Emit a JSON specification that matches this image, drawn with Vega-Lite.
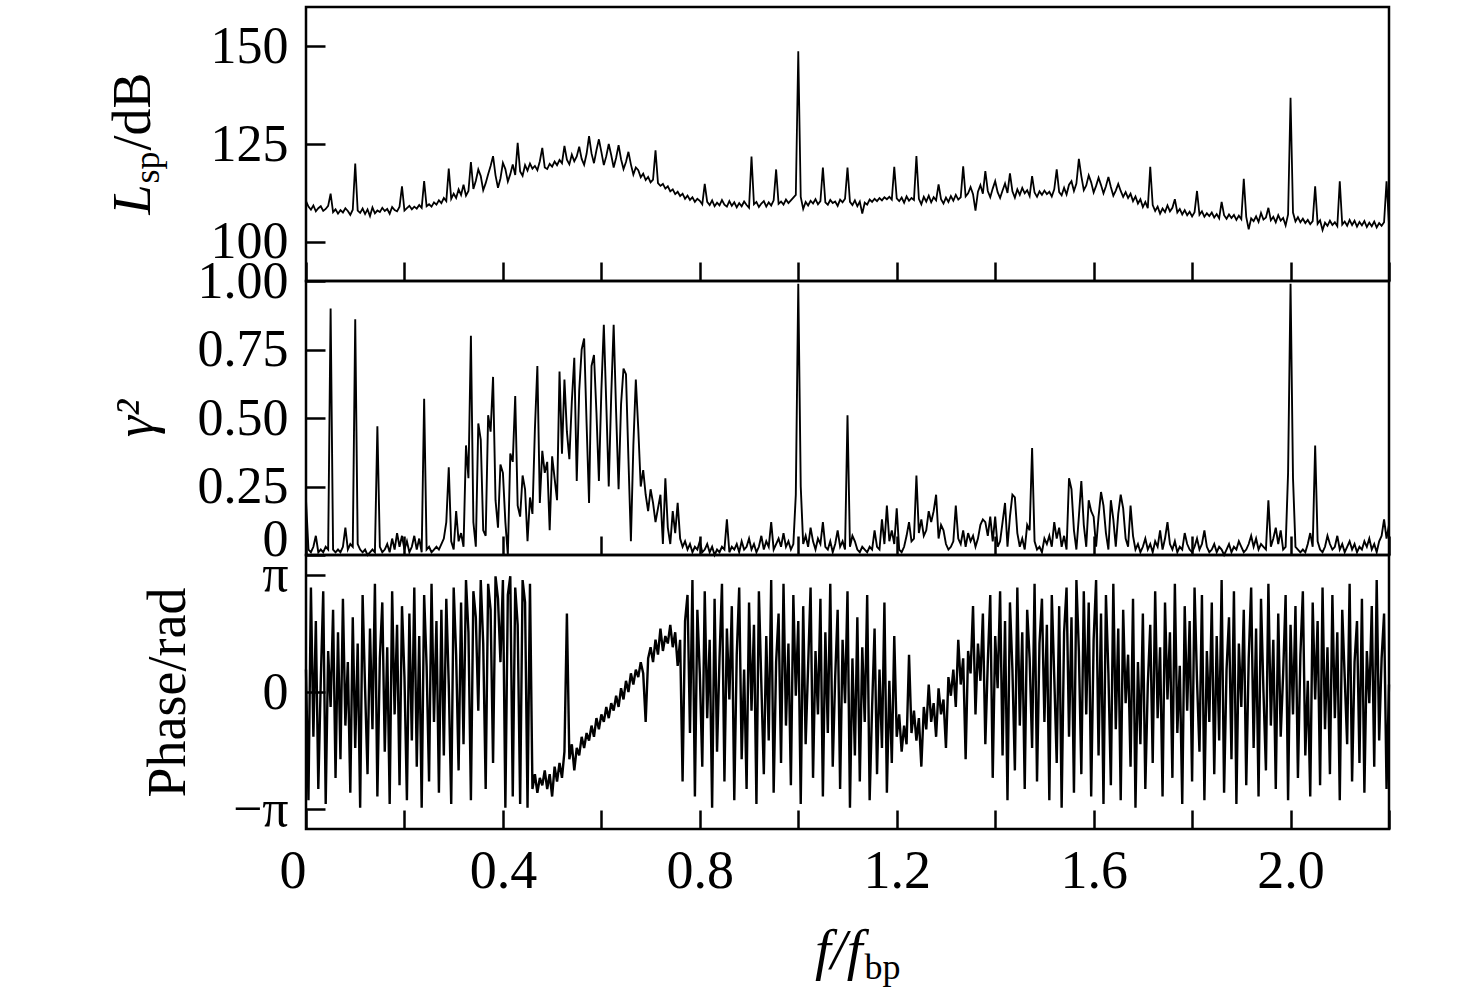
{
  "$schema": "https://vega.github.io/schema/vega-lite/v6.json",
  "description": "Coherence analysis: spectrum level, coherence squared and phase against normalised frequency.",
  "background": "white",
  "padding": {"left": 104, "top": 5, "right": 5, "bottom": 5},
  "bounds": "flush",
  "spacing": 0,
  "config": {
    "font": "Liberation Serif",
    "view": {"stroke": "black", "strokeWidth": 2.5},
    "line": {"color": "black", "strokeWidth": 1.8},
    "axis": {
      "domain": false,
      "grid": false,
      "tickSize": -19,
      "tickWidth": 2.5,
      "tickColor": "black",
      "labelFont": "Liberation Serif",
      "labelFontSize": 52,
      "labelColor": "black",
      "labelPadding": 37,
      "labelFlush": false,
      "labelOverlap": false,
      "titleFont": "Liberation Serif",
      "titleFontSize": 54,
      "titleFontWeight": "normal",
      "titleColor": "black"
    }
  },
  "datasets": {
    "spec": [
      {"f":0.000,"L":110.4,"g":0.20,"p":0.6},{"f":0.005,"L":109.0,"g":0.02,"p":-2.9},{"f":0.010,"L":108.2,"g":0.01,"p":2.8},{"f":0.015,"L":109.3,"g":0.03,"p":-1.2},{"f":0.020,"L":107.8,"g":0.07,"p":1.9},
      {"f":0.025,"L":108.6,"g":0.01,"p":-2.6},{"f":0.030,"L":109.1,"g":0.02,"p":0.3},{"f":0.035,"L":107.9,"g":0.01,"p":2.7},{"f":0.040,"L":108.4,"g":0.03,"p":-3.0},{"f":0.045,"L":109.2,"g":0.02,"p":1.1},
      {"f":0.050,"L":112.3,"g":0.90,"p":-0.4},{"f":0.055,"L":107.6,"g":0.02,"p":2.2},{"f":0.060,"L":108.3,"g":0.01,"p":-2.3},{"f":0.065,"L":107.2,"g":0.02,"p":1.6},{"f":0.070,"L":108.1,"g":0.01,"p":-1.8},
      {"f":0.075,"L":107.5,"g":0.03,"p":2.5},{"f":0.080,"L":108.6,"g":0.10,"p":-0.9},{"f":0.085,"L":107.9,"g":0.02,"p":0.8},{"f":0.090,"L":106.9,"g":0.04,"p":-2.7},{"f":0.095,"L":108.2,"g":0.03,"p":2.0},
      {"f":0.100,"L":120.0,"g":0.86,"p":-1.5},{"f":0.105,"L":108.0,"g":0.04,"p":1.3},{"f":0.110,"L":107.4,"g":0.02,"p":-3.1},{"f":0.115,"L":108.5,"g":0.01,"p":2.6},{"f":0.120,"L":107.1,"g":0.02,"p":0.1},
      {"f":0.125,"L":108.3,"g":0.00,"p":-2.2},{"f":0.130,"L":106.6,"g":0.01,"p":1.7},{"f":0.135,"L":108.8,"g":0.02,"p":-1.0},{"f":0.140,"L":107.3,"g":0.01,"p":2.9},{"f":0.145,"L":108.0,"g":0.47,"p":-2.8},
      {"f":0.150,"L":107.6,"g":0.03,"p":0.9},{"f":0.155,"L":108.7,"g":0.01,"p":2.4},{"f":0.160,"L":107.9,"g":0.02,"p":-1.6},{"f":0.165,"L":108.4,"g":0.04,"p":1.2},{"f":0.170,"L":107.2,"g":0.01,"p":-3.0},
      {"f":0.175,"L":108.9,"g":0.06,"p":2.7},{"f":0.180,"L":108.1,"g":0.02,"p":-0.6},{"f":0.185,"L":107.8,"g":0.08,"p":1.8},{"f":0.190,"L":109.0,"g":0.03,"p":-2.5},{"f":0.195,"L":114.2,"g":0.07,"p":2.3},
      {"f":0.200,"L":108.0,"g":0.02,"p":0.4},{"f":0.205,"L":108.6,"g":0.05,"p":-2.9},{"f":0.210,"L":109.2,"g":0.01,"p":2.1},{"f":0.215,"L":108.3,"g":0.03,"p":-1.3},{"f":0.220,"L":109.0,"g":0.07,"p":2.8},
      {"f":0.225,"L":108.5,"g":0.02,"p":-2.0},{"f":0.230,"L":109.4,"g":0.06,"p":1.5},{"f":0.235,"L":108.7,"g":0.01,"p":-3.1},{"f":0.240,"L":115.5,"g":0.57,"p":2.6},{"f":0.245,"L":109.1,"g":0.02,"p":0.7},
      {"f":0.250,"L":109.6,"g":0.03,"p":-2.4},{"f":0.255,"L":109.0,"g":0.01,"p":2.9},{"f":0.260,"L":110.1,"g":0.02,"p":-0.8},{"f":0.265,"L":109.5,"g":0.03,"p":1.9},{"f":0.270,"L":110.6,"g":0.02,"p":-2.7},
      {"f":0.275,"L":109.9,"g":0.04,"p":2.2},{"f":0.280,"L":111.2,"g":0.06,"p":-1.7},{"f":0.285,"L":110.4,"g":0.12,"p":2.5},{"f":0.290,"L":118.7,"g":0.32,"p":0.2},{"f":0.295,"L":111.0,"g":0.05,"p":-3.0},
      {"f":0.300,"L":112.3,"g":0.02,"p":2.8},{"f":0.305,"L":111.2,"g":0.16,"p":1.0},{"f":0.310,"L":113.4,"g":0.05,"p":-2.1},{"f":0.315,"L":112.0,"g":0.08,"p":2.4},{"f":0.320,"L":114.6,"g":0.03,"p":-1.4},
      {"f":0.325,"L":111.8,"g":0.40,"p":3.0},{"f":0.330,"L":113.0,"g":0.28,"p":1.6},{"f":0.335,"L":120.4,"g":0.80,"p":-2.9},{"f":0.340,"L":113.5,"g":0.12,"p":2.7},{"f":0.345,"L":115.6,"g":0.03,"p":2.0},
      {"f":0.350,"L":118.5,"g":0.48,"p":-0.5},{"f":0.355,"L":116.8,"g":0.42,"p":3.0},{"f":0.360,"L":113.2,"g":0.09,"p":1.3},{"f":0.365,"L":115.0,"g":0.07,"p":-2.6},{"f":0.370,"L":117.3,"g":0.51,"p":2.9},
      {"f":0.375,"L":119.4,"g":0.45,"p":2.2},{"f":0.380,"L":121.9,"g":0.65,"p":-1.9},{"f":0.385,"L":117.0,"g":0.20,"p":3.1},{"f":0.390,"L":113.8,"g":0.10,"p":2.5},{"f":0.395,"L":116.2,"g":0.33,"p":0.8},
      {"f":0.400,"L":120.2,"g":0.30,"p":3.0},{"f":0.405,"L":118.6,"g":0.12,"p":-3.1},{"f":0.410,"L":115.4,"g":0.00,"p":2.6},{"f":0.415,"L":117.3,"g":0.37,"p":3.1},{"f":0.420,"L":119.8,"g":0.34,"p":-2.8},
      {"f":0.425,"L":117.1,"g":0.58,"p":2.8},{"f":0.430,"L":125.3,"g":0.18,"p":1.8},{"f":0.435,"L":118.0,"g":0.14,"p":-3.0},{"f":0.440,"L":116.9,"g":0.29,"p":3.0},{"f":0.445,"L":119.6,"g":0.24,"p":2.4},
      {"f":0.450,"L":118.2,"g":0.05,"p":-3.1},{"f":0.455,"L":120.0,"g":0.21,"p":2.9},{"f":0.460,"L":118.7,"g":0.15,"p":-2.6},{"f":0.465,"L":119.4,"g":0.46,"p":-2.2},{"f":0.470,"L":118.3,"g":0.69,"p":-2.7},
      {"f":0.475,"L":120.6,"g":0.19,"p":-2.3},{"f":0.480,"L":124.0,"g":0.38,"p":-2.5},{"f":0.485,"L":119.0,"g":0.30,"p":-2.1},{"f":0.490,"L":118.6,"g":0.34,"p":-2.6},{"f":0.495,"L":119.9,"g":0.09,"p":-2.2},
      {"f":0.500,"L":119.2,"g":0.36,"p":-2.8},{"f":0.505,"L":120.5,"g":0.28,"p":-2.0},{"f":0.510,"L":119.6,"g":0.20,"p":-2.4},{"f":0.515,"L":120.9,"g":0.67,"p":-1.9},{"f":0.520,"L":120.1,"g":0.37,"p":-2.3},
      {"f":0.525,"L":124.5,"g":0.64,"p":-1.6},{"f":0.530,"L":121.0,"g":0.45,"p":2.1},{"f":0.535,"L":119.8,"g":0.35,"p":-1.8},{"f":0.540,"L":122.3,"g":0.56,"p":-1.4},{"f":0.545,"L":120.6,"g":0.72,"p":-2.1},
      {"f":0.550,"L":121.8,"g":0.27,"p":-1.5},{"f":0.555,"L":124.3,"g":0.60,"p":-1.7},{"f":0.560,"L":121.2,"g":0.75,"p":-1.2},{"f":0.565,"L":119.7,"g":0.79,"p":-1.5},{"f":0.570,"L":122.5,"g":0.48,"p":-1.1},
      {"f":0.575,"L":127.0,"g":0.19,"p":-1.3},{"f":0.580,"L":122.6,"g":0.69,"p":-0.9},{"f":0.585,"L":120.1,"g":0.73,"p":-1.2},{"f":0.590,"L":123.4,"g":0.52,"p":-0.7},{"f":0.595,"L":126.2,"g":0.27,"p":-1.0},
      {"f":0.600,"L":123.0,"g":0.60,"p":-0.6},{"f":0.605,"L":119.6,"g":0.84,"p":-0.8},{"f":0.610,"L":121.9,"g":0.55,"p":-0.4},{"f":0.615,"L":125.0,"g":0.25,"p":-0.7},{"f":0.620,"L":122.2,"g":0.58,"p":-0.3},
      {"f":0.625,"L":119.0,"g":0.84,"p":-0.5},{"f":0.630,"L":121.5,"g":0.52,"p":-0.1},{"f":0.635,"L":124.7,"g":0.24,"p":-0.4},{"f":0.640,"L":121.1,"g":0.55,"p":0.1},{"f":0.645,"L":118.6,"g":0.68,"p":-0.2},
      {"f":0.650,"L":120.4,"g":0.66,"p":0.3},{"f":0.655,"L":123.0,"g":0.35,"p":0.0},{"f":0.660,"L":119.8,"g":0.05,"p":0.5},{"f":0.665,"L":117.2,"g":0.40,"p":0.2},{"f":0.670,"L":119.0,"g":0.64,"p":0.6},
      {"f":0.675,"L":118.3,"g":0.46,"p":0.4},{"f":0.680,"L":116.5,"g":0.25,"p":0.8},{"f":0.685,"L":117.4,"g":0.31,"p":0.5},{"f":0.690,"L":115.8,"g":0.22,"p":-0.8},{"f":0.695,"L":116.6,"g":0.16,"p":0.9},
      {"f":0.700,"L":115.2,"g":0.24,"p":1.2},{"f":0.705,"L":115.9,"g":0.19,"p":0.8},{"f":0.710,"L":123.4,"g":0.12,"p":1.4},{"f":0.715,"L":115.0,"g":0.17,"p":1.0},{"f":0.720,"L":114.3,"g":0.22,"p":1.7},
      {"f":0.725,"L":114.8,"g":0.04,"p":1.1},{"f":0.730,"L":113.6,"g":0.28,"p":1.5},{"f":0.735,"L":114.2,"g":0.10,"p":1.3},{"f":0.740,"L":112.9,"g":0.04,"p":1.8},{"f":0.745,"L":113.4,"g":0.16,"p":1.2},
      {"f":0.750,"L":112.2,"g":0.08,"p":1.6},{"f":0.755,"L":112.8,"g":0.19,"p":0.7},{"f":0.760,"L":111.7,"g":0.06,"p":1.4},{"f":0.765,"L":112.3,"g":0.03,"p":-2.4},{"f":0.770,"L":111.0,"g":0.05,"p":1.9},
      {"f":0.775,"L":111.8,"g":0.02,"p":2.6},{"f":0.780,"L":110.7,"g":0.04,"p":-1.1},{"f":0.785,"L":111.4,"g":0.01,"p":3.0},{"f":0.790,"L":110.2,"g":0.03,"p":-2.8},{"f":0.795,"L":111.0,"g":0.02,"p":2.2},
      {"f":0.800,"L":110.5,"g":0.05,"p":0.5},{"f":0.805,"L":109.6,"g":0.01,"p":-2.0},{"f":0.810,"L":114.8,"g":0.02,"p":2.7},{"f":0.815,"L":110.2,"g":0.04,"p":-0.7},{"f":0.820,"L":109.4,"g":0.01,"p":1.4},
      {"f":0.825,"L":110.6,"g":0.03,"p":-3.1},{"f":0.830,"L":109.1,"g":0.00,"p":2.5},{"f":0.835,"L":110.0,"g":0.02,"p":-1.6},{"f":0.840,"L":109.3,"g":0.01,"p":0.9},{"f":0.845,"L":110.7,"g":0.03,"p":2.9},
      {"f":0.850,"L":109.5,"g":0.02,"p":-2.4},{"f":0.855,"L":109.0,"g":0.13,"p":1.7},{"f":0.860,"L":110.4,"g":0.01,"p":-0.2},{"f":0.865,"L":109.2,"g":0.03,"p":2.3},{"f":0.870,"L":110.1,"g":0.02,"p":-2.9},
      {"f":0.875,"L":108.8,"g":0.04,"p":1.0},{"f":0.880,"L":109.9,"g":0.01,"p":2.8},{"f":0.885,"L":109.1,"g":0.05,"p":-1.8},{"f":0.890,"L":110.3,"g":0.02,"p":0.6},{"f":0.895,"L":109.4,"g":0.03,"p":-2.6},
      {"f":0.900,"L":108.7,"g":0.06,"p":2.4},{"f":0.905,"L":121.8,"g":0.02,"p":-0.5},{"f":0.910,"L":109.6,"g":0.04,"p":1.8},{"f":0.915,"L":110.2,"g":0.01,"p":-3.0},{"f":0.920,"L":108.9,"g":0.03,"p":2.7},
      {"f":0.925,"L":109.8,"g":0.07,"p":0.2},{"f":0.930,"L":110.4,"g":0.02,"p":-2.2},{"f":0.935,"L":109.0,"g":0.05,"p":1.5},{"f":0.940,"L":110.1,"g":0.03,"p":-1.3},{"f":0.945,"L":109.3,"g":0.12,"p":3.0},
      {"f":0.950,"L":110.6,"g":0.02,"p":-2.7},{"f":0.955,"L":118.5,"g":0.04,"p":0.8},{"f":0.960,"L":109.7,"g":0.06,"p":2.1},{"f":0.965,"L":110.3,"g":0.03,"p":-1.9},{"f":0.970,"L":109.5,"g":0.08,"p":2.9},
      {"f":0.975,"L":110.8,"g":0.03,"p":-0.9},{"f":0.980,"L":109.9,"g":0.05,"p":1.3},{"f":0.985,"L":110.6,"g":0.02,"p":-2.5},{"f":0.990,"L":111.3,"g":0.04,"p":2.6},{"f":0.995,"L":112.0,"g":0.22,"p":-0.1},
      {"f":1.000,"L":148.7,"g":0.99,"p":1.9},{"f":1.005,"L":111.5,"g":0.25,"p":-3.0},{"f":1.010,"L":108.4,"g":0.04,"p":2.3},{"f":1.015,"L":110.2,"g":0.07,"p":-1.4},{"f":1.020,"L":109.3,"g":0.03,"p":0.7},
      {"f":1.025,"L":110.5,"g":0.10,"p":2.8},{"f":1.030,"L":109.8,"g":0.05,"p":-2.3},{"f":1.035,"L":110.9,"g":0.02,"p":1.1},{"f":1.040,"L":109.6,"g":0.06,"p":-0.6},{"f":1.045,"L":110.4,"g":0.04,"p":2.5},
      {"f":1.050,"L":119.0,"g":0.12,"p":-2.8},{"f":1.055,"L":110.1,"g":0.03,"p":1.6},{"f":1.060,"L":109.5,"g":0.02,"p":-1.1},{"f":1.065,"L":110.7,"g":0.05,"p":2.9},{"f":1.070,"L":109.9,"g":0.01,"p":-2.0},
      {"f":1.075,"L":110.3,"g":0.04,"p":0.4},{"f":1.080,"L":109.2,"g":0.09,"p":2.2},{"f":1.085,"L":110.8,"g":0.03,"p":-2.6},{"f":1.090,"L":110.1,"g":0.05,"p":1.4},{"f":1.095,"L":111.0,"g":0.02,"p":-0.3},
      {"f":1.100,"L":119.0,"g":0.51,"p":2.7},{"f":1.105,"L":110.2,"g":0.03,"p":-3.1},{"f":1.110,"L":109.4,"g":0.07,"p":0.9},{"f":1.115,"L":110.6,"g":0.05,"p":-1.7},{"f":1.120,"L":109.1,"g":0.02,"p":2.0},
      {"f":1.125,"L":110.3,"g":0.01,"p":-2.4},{"f":1.130,"L":107.2,"g":0.03,"p":1.2},{"f":1.135,"L":110.0,"g":0.02,"p":-0.8},{"f":1.140,"L":109.5,"g":0.01,"p":2.6},{"f":1.145,"L":110.8,"g":0.03,"p":-2.9},
      {"f":1.150,"L":110.2,"g":0.02,"p":-0.4},{"f":1.155,"L":111.0,"g":0.09,"p":1.7},{"f":1.160,"L":110.4,"g":0.03,"p":-2.2},{"f":1.165,"L":111.2,"g":0.02,"p":0.6},{"f":1.170,"L":110.6,"g":0.13,"p":-1.5},
      {"f":1.175,"L":111.4,"g":0.04,"p":2.4},{"f":1.180,"L":110.9,"g":0.18,"p":-2.7},{"f":1.185,"L":111.5,"g":0.05,"p":0.3},{"f":1.190,"L":110.8,"g":0.09,"p":-1.9},{"f":1.195,"L":119.2,"g":0.04,"p":1.5},
      {"f":1.200,"L":111.1,"g":0.17,"p":-1.2},{"f":1.205,"L":110.4,"g":0.02,"p":-0.6},{"f":1.210,"L":111.3,"g":0.01,"p":-1.6},{"f":1.215,"L":110.0,"g":0.03,"p":-0.9},{"f":1.220,"L":111.6,"g":0.07,"p":-1.4},
      {"f":1.225,"L":110.5,"g":0.12,"p":1.0},{"f":1.230,"L":111.2,"g":0.05,"p":-1.1},{"f":1.235,"L":110.7,"g":0.06,"p":-0.5},{"f":1.240,"L":121.9,"g":0.29,"p":-1.3},{"f":1.245,"L":111.0,"g":0.08,"p":-0.7},
      {"f":1.250,"L":109.6,"g":0.13,"p":-2.0},{"f":1.255,"L":111.5,"g":0.07,"p":-0.4},{"f":1.260,"L":110.3,"g":0.09,"p":-1.0},{"f":1.265,"L":111.8,"g":0.16,"p":0.2},{"f":1.270,"L":110.1,"g":0.12,"p":-0.8},
      {"f":1.275,"L":111.4,"g":0.16,"p":-0.3},{"f":1.280,"L":110.6,"g":0.22,"p":-1.2},{"f":1.285,"L":114.7,"g":0.06,"p":0.1},{"f":1.290,"L":110.9,"g":0.11,"p":-0.6},{"f":1.295,"L":109.8,"g":0.09,"p":-0.2},
      {"f":1.300,"L":111.3,"g":0.04,"p":-1.5},{"f":1.305,"L":110.2,"g":0.02,"p":0.4},{"f":1.310,"L":111.7,"g":0.03,"p":-0.1},{"f":1.315,"L":110.5,"g":0.05,"p":0.6},{"f":1.320,"L":112.0,"g":0.18,"p":-0.4},
      {"f":1.325,"L":110.8,"g":0.06,"p":1.4},{"f":1.330,"L":111.4,"g":0.04,"p":0.2},{"f":1.335,"L":119.3,"g":0.09,"p":0.9},{"f":1.340,"L":111.6,"g":0.03,"p":-1.8},{"f":1.345,"L":112.4,"g":0.08,"p":1.1},
      {"f":1.350,"L":114.0,"g":0.05,"p":0.5},{"f":1.355,"L":112.2,"g":0.07,"p":2.3},{"f":1.360,"L":108.0,"g":0.03,"p":-0.6},{"f":1.365,"L":112.8,"g":0.06,"p":1.3},{"f":1.370,"L":114.5,"g":0.11,"p":0.3},
      {"f":1.375,"L":112.3,"g":0.13,"p":2.1},{"f":1.380,"L":118.1,"g":0.12,"p":-1.4},{"f":1.385,"L":113.0,"g":0.07,"p":0.8},{"f":1.390,"L":111.4,"g":0.14,"p":2.6},{"f":1.395,"L":113.6,"g":0.05,"p":-2.3},
      {"f":1.400,"L":115.5,"g":0.14,"p":1.5},{"f":1.405,"L":112.7,"g":0.03,"p":0.1},{"f":1.410,"L":111.2,"g":0.05,"p":2.7},{"f":1.415,"L":113.1,"g":0.12,"p":-1.7},{"f":1.420,"L":114.9,"g":0.19,"p":1.9},
      {"f":1.425,"L":112.5,"g":0.03,"p":-2.9},{"f":1.430,"L":117.5,"g":0.14,"p":2.4},{"f":1.435,"L":112.9,"g":0.22,"p":0.6},{"f":1.440,"L":111.3,"g":0.21,"p":-2.1},{"f":1.445,"L":113.4,"g":0.08,"p":2.8},
      {"f":1.450,"L":112.0,"g":0.03,"p":-0.9},{"f":1.455,"L":113.8,"g":0.06,"p":1.6},{"f":1.460,"L":112.4,"g":0.02,"p":-2.6},{"f":1.465,"L":113.2,"g":0.11,"p":2.2},{"f":1.470,"L":111.7,"g":0.09,"p":0.9},
      {"f":1.475,"L":116.8,"g":0.39,"p":-1.5},{"f":1.480,"L":112.6,"g":0.05,"p":2.9},{"f":1.485,"L":111.5,"g":0.02,"p":-2.4},{"f":1.490,"L":112.9,"g":0.03,"p":1.3},{"f":1.495,"L":112.0,"g":0.01,"p":2.5},
      {"f":1.500,"L":113.1,"g":0.06,"p":-0.8},{"f":1.505,"L":112.2,"g":0.04,"p":1.8},{"f":1.510,"L":112.8,"g":0.07,"p":-2.9},{"f":1.515,"L":111.6,"g":0.03,"p":2.6},{"f":1.520,"L":113.4,"g":0.12,"p":0.4},
      {"f":1.525,"L":118.5,"g":0.06,"p":-1.9},{"f":1.530,"L":112.7,"g":0.10,"p":2.3},{"f":1.535,"L":111.9,"g":0.03,"p":-3.1},{"f":1.540,"L":113.8,"g":0.07,"p":1.6},{"f":1.545,"L":112.1,"g":0.02,"p":2.8},
      {"f":1.550,"L":114.6,"g":0.28,"p":-1.2},{"f":1.555,"L":115.5,"g":0.24,"p":2.0},{"f":1.560,"L":113.0,"g":0.09,"p":-2.7},{"f":1.565,"L":114.9,"g":0.02,"p":3.0},{"f":1.570,"L":121.2,"g":0.14,"p":1.1},
      {"f":1.575,"L":116.8,"g":0.27,"p":-2.2},{"f":1.580,"L":113.2,"g":0.11,"p":2.7},{"f":1.585,"L":114.4,"g":0.03,"p":-0.6},{"f":1.590,"L":117.0,"g":0.20,"p":2.4},{"f":1.595,"L":115.2,"g":0.16,"p":-2.8},
      {"f":1.600,"L":112.6,"g":0.14,"p":1.4},{"f":1.605,"L":114.3,"g":0.03,"p":3.0},{"f":1.610,"L":116.4,"g":0.14,"p":-1.7},{"f":1.615,"L":114.5,"g":0.23,"p":2.1},{"f":1.620,"L":112.4,"g":0.18,"p":-3.0},
      {"f":1.625,"L":114.2,"g":0.08,"p":2.6},{"f":1.630,"L":116.6,"g":0.02,"p":0.5},{"f":1.635,"L":114.0,"g":0.20,"p":-2.5},{"f":1.640,"L":111.8,"g":0.13,"p":2.9},{"f":1.645,"L":113.1,"g":0.03,"p":-1.0},
      {"f":1.650,"L":114.8,"g":0.15,"p":1.7},{"f":1.655,"L":113.0,"g":0.22,"p":-2.9},{"f":1.660,"L":111.5,"g":0.17,"p":2.2},{"f":1.665,"L":112.7,"g":0.06,"p":-0.3},{"f":1.670,"L":111.2,"g":0.03,"p":1.0},
      {"f":1.675,"L":112.3,"g":0.18,"p":-2.0},{"f":1.680,"L":110.4,"g":0.07,"p":2.5},{"f":1.685,"L":111.6,"g":0.02,"p":-3.1},{"f":1.690,"L":109.8,"g":0.04,"p":0.8},{"f":1.695,"L":110.9,"g":0.01,"p":-1.4},
      {"f":1.700,"L":108.9,"g":0.03,"p":2.1},{"f":1.705,"L":110.2,"g":0.06,"p":-2.6},{"f":1.710,"L":108.6,"g":0.02,"p":0.2},{"f":1.715,"L":119.2,"g":0.04,"p":1.8},{"f":1.720,"L":109.4,"g":0.01,"p":-1.9},
      {"f":1.725,"L":107.9,"g":0.05,"p":2.7},{"f":1.730,"L":109.0,"g":0.03,"p":-0.7},{"f":1.735,"L":107.2,"g":0.09,"p":1.2},{"f":1.740,"L":108.5,"g":0.02,"p":-2.8},{"f":1.745,"L":107.6,"g":0.06,"p":2.4},
      {"f":1.750,"L":109.3,"g":0.12,"p":-0.2},{"f":1.755,"L":107.8,"g":0.04,"p":1.6},{"f":1.760,"L":108.7,"g":0.02,"p":-2.3},{"f":1.765,"L":110.9,"g":0.05,"p":2.9},{"f":1.770,"L":107.5,"g":0.01,"p":-1.1},
      {"f":1.775,"L":108.4,"g":0.03,"p":0.7},{"f":1.780,"L":107.0,"g":0.02,"p":-3.0},{"f":1.785,"L":108.1,"g":0.08,"p":2.3},{"f":1.790,"L":106.8,"g":0.04,"p":-0.5},{"f":1.795,"L":107.7,"g":0.02,"p":1.9},
      {"f":1.800,"L":106.5,"g":0.01,"p":-2.4},{"f":1.805,"L":107.6,"g":0.03,"p":2.8},{"f":1.810,"L":113.0,"g":0.06,"p":0.3},{"f":1.815,"L":106.9,"g":0.02,"p":-1.6},{"f":1.820,"L":107.8,"g":0.04,"p":2.6},
      {"f":1.825,"L":106.4,"g":0.09,"p":-2.9},{"f":1.830,"L":107.3,"g":0.03,"p":1.1},{"f":1.835,"L":106.6,"g":0.01,"p":-0.8},{"f":1.840,"L":107.5,"g":0.02,"p":2.4},{"f":1.845,"L":106.2,"g":0.04,"p":-2.2},
      {"f":1.850,"L":107.1,"g":0.01,"p":1.5},{"f":1.855,"L":106.0,"g":0.03,"p":-1.3},{"f":1.860,"L":110.2,"g":0.02,"p":3.0},{"f":1.865,"L":106.8,"g":0.00,"p":-2.7},{"f":1.870,"L":105.9,"g":0.02,"p":0.6},
      {"f":1.875,"L":107.0,"g":0.04,"p":2.0},{"f":1.880,"L":106.1,"g":0.01,"p":-1.8},{"f":1.885,"L":106.9,"g":0.03,"p":2.7},{"f":1.890,"L":105.6,"g":0.02,"p":-3.0},{"f":1.895,"L":106.7,"g":0.05,"p":1.3},
      {"f":1.900,"L":105.8,"g":0.03,"p":-0.4},{"f":1.905,"L":116.1,"g":0.01,"p":2.2},{"f":1.910,"L":106.4,"g":0.02,"p":-2.5},{"f":1.915,"L":103.2,"g":0.04,"p":0.9},{"f":1.920,"L":106.0,"g":0.07,"p":2.8},
      {"f":1.925,"L":105.3,"g":0.03,"p":-1.5},{"f":1.930,"L":106.5,"g":0.06,"p":1.7},{"f":1.935,"L":105.1,"g":0.02,"p":-2.8},{"f":1.940,"L":107.4,"g":0.04,"p":2.5},{"f":1.945,"L":105.7,"g":0.03,"p":0.0},
      {"f":1.950,"L":106.2,"g":0.02,"p":-2.1},{"f":1.955,"L":108.7,"g":0.20,"p":2.9},{"f":1.960,"L":105.5,"g":0.03,"p":-0.9},{"f":1.965,"L":106.4,"g":0.06,"p":1.4},{"f":1.970,"L":105.0,"g":0.10,"p":-2.6},
      {"f":1.975,"L":106.8,"g":0.04,"p":2.1},{"f":1.980,"L":105.4,"g":0.09,"p":-1.2},{"f":1.985,"L":106.1,"g":0.02,"p":0.5},{"f":1.990,"L":104.2,"g":0.03,"p":2.6},{"f":1.995,"L":107.0,"g":0.30,"p":-2.9},
      {"f":2.000,"L":136.8,"g":0.99,"p":1.8},{"f":2.005,"L":107.5,"g":0.28,"p":-0.6},{"f":2.010,"L":105.2,"g":0.03,"p":2.3},{"f":2.015,"L":106.3,"g":0.02,"p":-2.3},{"f":2.020,"L":105.0,"g":0.01,"p":1.0},
      {"f":2.025,"L":105.9,"g":0.02,"p":2.7},{"f":2.030,"L":104.8,"g":0.01,"p":-1.7},{"f":2.035,"L":105.6,"g":0.04,"p":0.3},{"f":2.040,"L":104.5,"g":0.08,"p":-2.8},{"f":2.045,"L":105.3,"g":0.03,"p":2.4},
      {"f":2.050,"L":114.2,"g":0.40,"p":-0.2},{"f":2.055,"L":104.6,"g":0.05,"p":1.9},{"f":2.060,"L":105.5,"g":0.02,"p":-2.5},{"f":2.065,"L":103.0,"g":0.01,"p":2.8},{"f":2.070,"L":104.9,"g":0.03,"p":-1.0},
      {"f":2.075,"L":104.1,"g":0.07,"p":1.2},{"f":2.080,"L":105.4,"g":0.04,"p":-2.2},{"f":2.085,"L":104.3,"g":0.02,"p":2.6},{"f":2.090,"L":105.0,"g":0.03,"p":-0.7},{"f":2.095,"L":104.0,"g":0.07,"p":1.6},
      {"f":2.100,"L":115.5,"g":0.02,"p":-2.9},{"f":2.105,"L":104.4,"g":0.04,"p":2.2},{"f":2.110,"L":105.2,"g":0.01,"p":0.4},{"f":2.115,"L":104.1,"g":0.03,"p":-1.4},{"f":2.120,"L":105.6,"g":0.05,"p":2.9},
      {"f":2.125,"L":104.3,"g":0.02,"p":-2.4},{"f":2.130,"L":105.4,"g":0.04,"p":0.8},{"f":2.135,"L":103.9,"g":0.01,"p":1.9},{"f":2.140,"L":105.1,"g":0.03,"p":-1.9},{"f":2.145,"L":104.2,"g":0.02,"p":2.5},
      {"f":2.150,"L":105.3,"g":0.05,"p":-2.7},{"f":2.155,"L":103.8,"g":0.03,"p":1.1},{"f":2.160,"L":104.9,"g":0.06,"p":-0.3},{"f":2.165,"L":104.0,"g":0.02,"p":2.3},{"f":2.170,"L":105.2,"g":0.04,"p":-2.0},
      {"f":2.175,"L":103.7,"g":0.01,"p":3.0},{"f":2.180,"L":104.8,"g":0.05,"p":-1.3},{"f":2.185,"L":104.1,"g":0.07,"p":0.9},{"f":2.190,"L":105.0,"g":0.13,"p":2.1},{"f":2.195,"L":115.5,"g":0.06,"p":-2.6},
      {"f":2.200,"L":104.5,"g":0.11,"p":0.2}
    ]
  },
  "data": {"name": "spec"},
  "vconcat": [
    {
      "width": 1083,
      "height": 274,
      "encoding": {
        "x": {
          "field": "f",
          "type": "quantitative",
          "scale": {"domain": [0, 2.2], "nice": false},
          "axis": {"values": [0, 0.2, 0.4, 0.6, 0.8, 1, 1.2, 1.4, 1.6, 1.8, 2, 2.2], "labels": false, "title": null}
        }
      },
      "layer": [
        {
          "mark": {"type": "line", "strokeWidth": 1.8},
          "encoding": {
            "y": {
              "field": "L",
              "type": "quantitative",
              "scale": {"domain": [90, 160], "nice": false, "zero": false},
              "axis": {
                "orient": "left",
                "values": [100, 125, 150],
                "title": "L",
                "titleFontStyle": "italic",
                "titleAngle": -90,
                "titleAlign": "left",
                "titleBaseline": "alphabetic",
                "titleX": -157,
                "titleY": 207
              }
            }
          }
        },
        {
          "mark": {"type": "line", "opacity": 0},
          "encoding": {
            "y": {
              "field": "L",
              "type": "quantitative",
              "scale": {"domain": [90, 160], "nice": false, "zero": false},
              "axis": {
                "orient": "left",
                "labels": false,
                "ticks": false,
                "title": "sp",
                "titleFontSize": 36,
                "titleAngle": -90,
                "titleAlign": "left",
                "titleBaseline": "alphabetic",
                "titleX": -148,
                "titleY": 176
              }
            }
          }
        },
        {
          "mark": {"type": "line", "opacity": 0},
          "encoding": {
            "y": {
              "field": "L",
              "type": "quantitative",
              "scale": {"domain": [90, 160], "nice": false, "zero": false},
              "axis": {
                "orient": "left",
                "labels": false,
                "ticks": false,
                "title": "/dB",
                "titleAngle": -90,
                "titleAlign": "left",
                "titleBaseline": "alphabetic",
                "titleX": -157,
                "titleY": 143
              }
            }
          }
        }
      ],
      "resolve": {"axis": {"y": "independent"}}
    },
    {
      "width": 1083,
      "height": 274,
      "mark": {"type": "line", "strokeWidth": 1.9},
      "encoding": {
        "x": {
          "field": "f",
          "type": "quantitative",
          "scale": {"domain": [0, 2.2], "nice": false},
          "axis": {"values": [0, 0.2, 0.4, 0.6, 0.8, 1, 1.2, 1.4, 1.6, 1.8, 2, 2.2], "labels": false, "title": null}
        },
        "y": {
          "field": "g",
          "type": "quantitative",
          "scale": {"domain": [0, 1], "nice": false},
          "axis": {
            "values": [0, 0.25, 0.5, 0.75, 1],
            "labelExpr": "datum.value == 0 ? '0' : format(datum.value, '.2f')",
            "labelBaseline": {"condition": {"test": "datum.value == 0", "value": "alphabetic"}, "value": "middle"},
            "title": "γ²",
            "titleFontStyle": "italic",
            "titleAngle": -90,
            "titleAlign": "center",
            "titleBaseline": "alphabetic",
            "titleX": -154,
            "titleY": 137
          }
        }
      }
    },
    {
      "width": 1083,
      "height": 274,
      "encoding": {
        "y": {
          "field": "p",
          "type": "quantitative",
          "scale": {"domain": [-3.67, 3.67], "nice": false},
          "axis": {
            "values": [-3.14159, 0, 3.14159],
            "labelExpr": "datum.value > 1 ? 'π' : datum.value < -1 ? '−π' : '0'",
            "title": "Phase/rad",
            "titleAngle": -90,
            "titleAlign": "center",
            "titleBaseline": "alphabetic",
            "titleX": -122,
            "titleY": 137
          }
        }
      },
      "layer": [
        {
          "mark": {"type": "line", "strokeWidth": 2.4},
          "encoding": {
            "x": {
              "field": "f",
              "type": "quantitative",
              "scale": {"domain": [0, 2.2], "nice": false},
              "axis": {
                "orient": "bottom",
                "values": [0, 0.2, 0.4, 0.6, 0.8, 1, 1.2, 1.4, 1.6, 1.8, 2, 2.2],
                "labelExpr": "abs(datum.value * 2.5 - round(datum.value * 2.5)) < 0.01 ? (datum.value == 0 ? '0' : format(datum.value, '.1f')) : ''",
                "labelAlign": {"condition": {"test": "datum.value == 0", "value": "right"}, "value": "center"},
                "labelFontSize": 54,
                "labelPadding": 34,
                "title": "f/f",
                "titleFontStyle": "italic",
                "titleFontSize": 57,
                "titleAngle": 0,
                "titleAlign": "right",
                "titleBaseline": "alphabetic",
                "titleX": 556,
                "titleY": 139
              }
            }
          }
        },
        {
          "mark": {"type": "line", "opacity": 0},
          "encoding": {
            "x": {
              "field": "f",
              "type": "quantitative",
              "scale": {"domain": [0, 2.2], "nice": false},
              "axis": {
                "orient": "bottom",
                "labels": false,
                "ticks": false,
                "title": "bp",
                "titleFontSize": 36,
                "titleAngle": 0,
                "titleAlign": "left",
                "titleBaseline": "alphabetic",
                "titleX": 558,
                "titleY": 149
              }
            }
          }
        }
      ],
      "resolve": {"axis": {"x": "independent"}}
    }
  ]
}
